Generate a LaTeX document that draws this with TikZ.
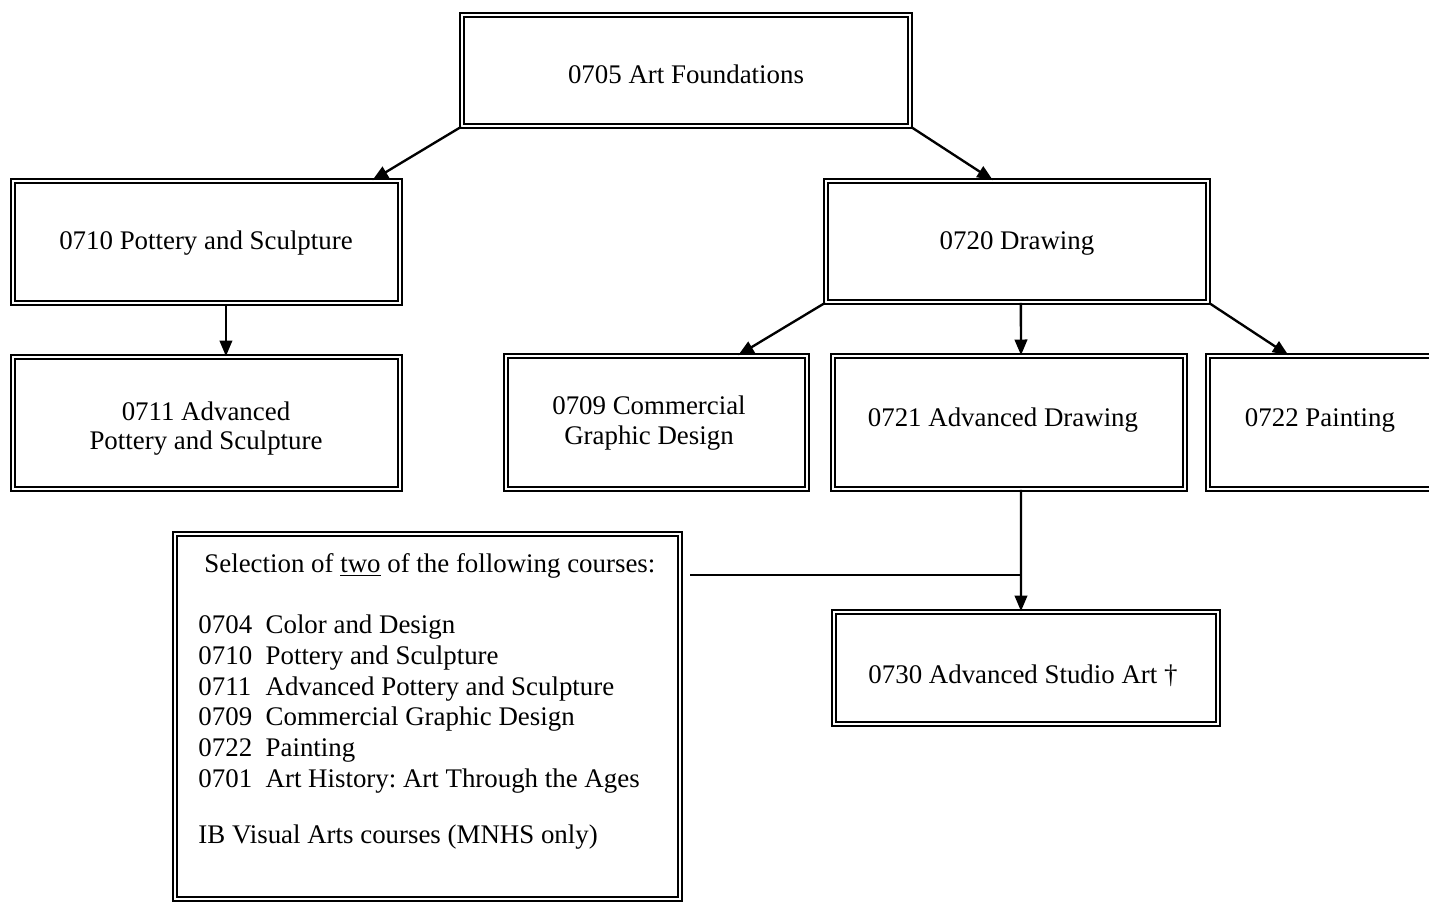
\documentclass[tikz,border=0pt]{standalone}
\usepackage{fontspec}
\setmainfont{Liberation Serif}
\usetikzlibrary{arrows.meta,fit,calc}
\frenchspacing
\begin{document}
\begin{tikzpicture}[x=0.4464pt,y=-0.4464pt,
  dbox/.style={draw=black, double=white, line width=0.9pt, double distance=1.1pt, inner sep=0pt},
  conn/.style={line width=1.05pt, -{Triangle[length=7pt,width=5.6pt]}},
  thinline/.style={line width=0.75pt},
  txt/.style={inner sep=0pt, font=\fontsize{12pt}{13.7pt}\selectfont}]
\useasboundingbox (0,0) rectangle (1429,903);

% boxes
\node[dbox, fit={(462.2,15.2)(909.8,125.8)}] (a) {};
\node[dbox, fit={(13.2,181.2)(399.8,302.8)}] (p) {};
\node[dbox, fit={(13.2,357.2)(399.8,488.8)}] (q) {};
\node[dbox, fit={(826.2,181.2)(1207.8,301.8)}] (d) {};
\node[dbox, fit={(506.2,356.2)(806.8,488.8)}] (c) {};
\node[dbox, fit={(833.2,356.2)(1184.8,488.8)}] (r) {};
\node[dbox, fit={(1208.2,356.2)(1460,488.8)}] (s) {};
\node[dbox, fit={(175.2,534.2)(679.8,898.8)}] (sel) {};
\node[dbox, fit={(834.2,612.2)(1217.8,723.8)}] (t) {};

% texts
\node[txt, anchor=base] (ta) at (686,83) {0705 Art Foundations};
\node[txt, anchor=base] (tp) at (206,249) {0710 Pottery and Sculpture};
\node[txt, anchor=base] (td) at (1017,249) {0720 Drawing};
\node[txt, anchor=base] (tq1) at (206,420) {0711 Advanced};
\node[txt, anchor=base] (tq2) at (206,449) {Pottery and Sculpture};
\node[txt, anchor=base] (tc1) at (649,414) {0709 Commercial};
\node[txt, anchor=base] (tc2) at (649,444) {Graphic Design};
\node[txt, anchor=base] (tr) at (1003,426) {0721 Advanced Drawing};
\node[txt, anchor=base] (ts) at (1320,426) {0722 Painting};
\node[txt, anchor=base] (tt) at (1023,683) {0730 Advanced Studio Art †};

\node[txt, anchor=base west] (h0) at (204,572) {Selection of \underline{two} of the following courses:};
\node[txt, anchor=base west] (h1) at (198,633) {\makebox[30pt][l]{0704}Color and Design};
\node[txt, anchor=base west] (h2) at (198,664) {\makebox[30pt][l]{0710}Pottery and Sculpture};
\node[txt, anchor=base west] (h3) at (198,695) {\makebox[30pt][l]{0711}Advanced Pottery and Sculpture};
\node[txt, anchor=base west] (h4) at (198,725) {\makebox[30pt][l]{0709}Commercial Graphic Design};
\node[txt, anchor=base west] (h5) at (198,756) {\makebox[30pt][l]{0722}Painting};
\node[txt, anchor=base west] (h6) at (198,787) {\makebox[30pt][l]{0701}Art History: Art Through the Ages};
\node[txt, anchor=base west] (h7) at (198,843) {IB Visual Arts courses (MNHS only)};

% connectors
\draw[conn] (a.south west) -- ($(p.north west)!0.927!(p.north east)$);
\draw[conn] (a.south east) -- ($(d.north west)!0.437!(d.north east)$);
\draw[conn] ($(p.south west)!0.55!(p.south east)$) -- ($(q.north west)!0.55!(q.north east)$);
\draw[conn] (d.south west) -- ($(c.north west)!0.770!(c.north east)$);
\draw[conn] ($(d.south west)!0.510!(d.south east)$) -- ($(r.north west)!0.534!(r.north east)$);
\draw[conn] (d.south east) -- ($(s.north west)!0.32!(s.north east)$);
\coordinate (rs) at ($(r.south west)!0.534!(r.south east)$);
\draw[conn] (rs) -- ($(t.north west)!0.487!(t.north east)$);
\coordinate (hl) at (690,575);
\draw[thinline] (hl) -- (hl -| rs);
\end{tikzpicture}
\end{document}
